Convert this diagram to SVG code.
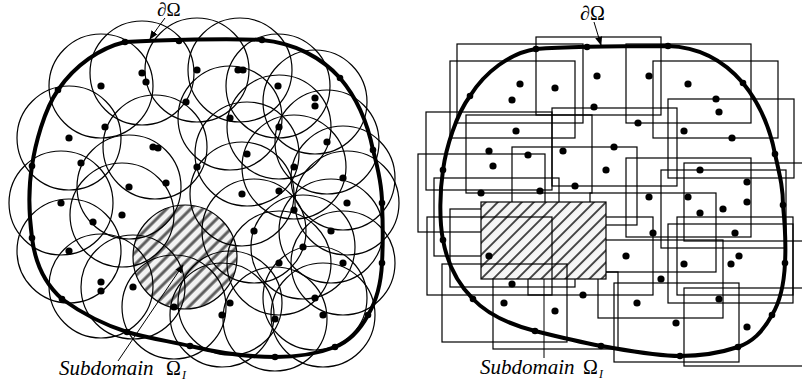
<svg xmlns="http://www.w3.org/2000/svg" width="802" height="387" viewBox="0 0 802 387">
<defs>
<style>
.c{fill:none;stroke:#000;stroke-width:1.2}
.r{fill:none;stroke:#000;stroke-width:1.2}
.b{fill:none;stroke:#000;stroke-width:4}
.d{fill:#000}
.t{font-family:"Liberation Serif","Times New Roman",serif;fill:#000}
.ld{fill:none;stroke:#000;stroke-width:1}
</style>
<pattern id="hl" width="8.5" height="8.5" patternUnits="userSpaceOnUse" patternTransform="rotate(45)">
<rect width="8.5" height="8.5" fill="#f2f2f2"/>
<line x1="2" y1="0" x2="2" y2="8.5" stroke="#444" stroke-width="3" stroke-opacity="0.85"/>
</pattern>
<pattern id="hr" width="8.5" height="8.5" patternUnits="userSpaceOnUse" patternTransform="rotate(45)">
<rect width="8.5" height="8.5" fill="#f6f6f6"/>
<line x1="2" y1="0" x2="2" y2="8.5" stroke="#333" stroke-width="1.8"/>
</pattern>
<marker id="ah" viewBox="0 0 10 10" refX="9" refY="5" markerWidth="9" markerHeight="9" markerUnits="userSpaceOnUse" orient="auto">
<path d="M0,1 L10,5 L0,9 Z" fill="#000"/>
</marker>
</defs>
<rect width="802" height="387" fill="#fff"/>

<g id="left">
<circle cx="185" cy="257" r="52" fill="url(#hl)" stroke="#000" stroke-width="1.2"/>
<g id="left-circles">
<circle class="c" cx="142" cy="73" r="52"/><circle class="c" cx="101" cy="86" r="52"/><circle class="c" cx="69" cy="138" r="52"/><circle class="c" cx="155" cy="147" r="52"/><circle class="c" cx="129" cy="187" r="52"/><circle class="c" cx="197" cy="70" r="52"/><circle class="c" cx="240" cy="70" r="52"/><circle class="c" cx="278" cy="86" r="52"/><circle class="c" cx="315" cy="102" r="52"/><circle class="c" cx="230" cy="118" r="52"/><circle class="c" cx="279" cy="127" r="52"/><circle class="c" cx="327" cy="142" r="52"/><circle class="c" cx="247" cy="154" r="52"/><circle class="c" cx="294" cy="167" r="52"/><circle class="c" cx="343" cy="178" r="52"/><circle class="c" cx="242" cy="194" r="52"/><circle class="c" cx="347" cy="203" r="52"/><circle class="c" cx="254" cy="231" r="52"/><circle class="c" cx="303" cy="247" r="52"/><circle class="c" cx="279" cy="263" r="52"/><circle class="c" cx="133" cy="287" r="52"/><circle class="c" cx="315" cy="298" r="52"/><circle class="c" cx="122" cy="215" r="52"/><circle class="c" cx="61" cy="203" r="52"/><circle class="c" cx="69" cy="251" r="52"/><circle class="c" cx="101" cy="286" r="52"/><circle class="c" cx="174" cy="307" r="52"/><circle class="c" cx="331" cy="231" r="52"/><circle class="c" cx="343" cy="263" r="52"/><circle class="c" cx="230" cy="303" r="52"/><circle class="c" cx="222" cy="315" r="52"/><circle class="c" cx="275" cy="319" r="52"/><circle class="c" cx="323" cy="315" r="52"/>
</g>
<path id="left-boundary" class="b" d="M125,42 C160,40 230,38 262,40 C295,43 322,58 340,78 C357,98 368,125 373,150 C379,172 382,188 382,203 C383,225 383,245 382,263 C381,285 377,300 368,315 C360,330 350,341 335,347 C317,354 297,357 275,357 C245,357 215,352 190,346 C168,341 147,338 127,332 C102,324 80,312 62,299 C44,283 35,262 32,238 C29,215 28,190 32,166 C35,145 44,110 58,90 C75,65 100,48 125,42 Z"/>
<g id="left-nodes" class="d">
<circle cx="125" cy="42" r="3.3"/><circle cx="179" cy="41" r="3.3"/><circle cx="262" cy="40" r="3.3"/><circle cx="340" cy="78" r="3.3"/><circle cx="373" cy="150" r="3.3"/><circle cx="382" cy="203" r="3.3"/><circle cx="382" cy="263" r="3.3"/><circle cx="368" cy="315" r="3.3"/><circle cx="335" cy="347" r="3.3"/><circle cx="275" cy="357" r="3.3"/><circle cx="190" cy="346" r="3.3"/><circle cx="127" cy="332" r="3.3"/><circle cx="62" cy="299" r="3.3"/><circle cx="32" cy="238" r="3.3"/><circle cx="32" cy="166" r="3.3"/><circle cx="58" cy="90" r="3.3"/>
<circle cx="142" cy="73" r="3.6"/><circle cx="146" cy="82" r="3.6"/><circle cx="101" cy="86" r="3.6"/><circle cx="186" cy="102" r="3.6"/><circle cx="105" cy="127" r="3.6"/><circle cx="69" cy="138" r="3.6"/><circle cx="153" cy="147" r="3.6"/><circle cx="158" cy="148" r="3.6"/><circle cx="81" cy="163" r="3.6"/><circle cx="197" cy="167" r="3.6"/><circle cx="129" cy="187" r="3.6"/><circle cx="166" cy="183" r="3.6"/><circle cx="197" cy="70" r="3.6"/><circle cx="238" cy="70" r="3.6"/><circle cx="243" cy="70" r="3.6"/><circle cx="278" cy="86" r="3.6"/><circle cx="315" cy="98" r="3.6"/><circle cx="315" cy="106" r="3.6"/><circle cx="230" cy="118" r="3.6"/><circle cx="279" cy="127" r="3.6"/><circle cx="327" cy="142" r="3.6"/><circle cx="247" cy="154" r="3.6"/><circle cx="294" cy="167" r="3.6"/><circle cx="343" cy="178" r="3.6"/><circle cx="242" cy="194" r="3.6"/><circle cx="279" cy="191" r="3.6"/><circle cx="347" cy="203" r="3.6"/><circle cx="294" cy="210" r="3.6"/><circle cx="254" cy="231" r="3.6"/><circle cx="303" cy="247" r="3.6"/><circle cx="279" cy="263" r="3.6"/><circle cx="133" cy="287" r="3.6"/><circle cx="315" cy="298" r="3.6"/><circle cx="122" cy="215" r="3.6"/><circle cx="61" cy="203" r="3.6"/><circle cx="93" cy="222" r="3.6"/><circle cx="69" cy="251" r="3.6"/><circle cx="101" cy="282" r="3.6"/><circle cx="101" cy="291" r="3.6"/><circle cx="174" cy="307" r="3.6"/><circle cx="331" cy="231" r="3.6"/><circle cx="343" cy="263" r="3.6"/><circle cx="230" cy="303" r="3.6"/><circle cx="222" cy="315" r="3.6"/><circle cx="275" cy="319" r="3.6"/><circle cx="323" cy="315" r="3.6"/>
</g>
</g>

<g id="right">
<g id="right-rects">
<rect class="r" x="536" y="37" width="125" height="78"/><rect class="r" x="457" y="44" width="126" height="79"/><rect class="r" x="626" y="44" width="125" height="79"/><rect class="r" x="450" y="61" width="125" height="77"/><rect class="r" x="653" y="61" width="125" height="77"/><rect class="r" x="668" y="99" width="126" height="79"/><rect class="r" x="552" y="108" width="125" height="78"/><rect class="r" x="426" y="112" width="126" height="78"/><rect class="r" x="466" y="115" width="126" height="78"/><rect class="r" x="512" y="147" width="125" height="78"/><rect class="r" x="626" y="158" width="125" height="79"/><rect class="r" x="684" y="163" width="126" height="78"/><rect class="r" x="661" y="170" width="125" height="78"/><rect class="r" x="418" y="154" width="127" height="78"/><rect class="r" x="434" y="178" width="125" height="78"/><rect class="r" x="590" y="193" width="126" height="79"/><rect class="r" x="450" y="209" width="125" height="78"/><rect class="r" x="493" y="272" width="125" height="77"/><rect class="r" x="598" y="240" width="125" height="78"/><rect class="r" x="668" y="224" width="125" height="79"/><rect class="r" x="677" y="217" width="116" height="78"/><rect class="r" x="614" y="283" width="125" height="79"/><rect class="r" x="684" y="288" width="126" height="78"/><rect class="r" x="528" y="217" width="125" height="78"/>
</g>
<rect id="subdomain-right" x="481" y="202" width="125" height="77" fill="url(#hr)" stroke="#000" stroke-width="1.2"/>
<g id="right-rects-top">
<rect class="r" x="427" y="217" width="125" height="78"/><rect class="r" x="442" y="264" width="125" height="78"/>
</g>
<path id="right-boundary" class="b" d="M536,49 C560,47 620,46 668,46 C700,47 725,62 743,83 C760,104 770,128 775,154 C781,180 783,190 783,205 C785,225 786,245 785,263 C784,285 780,302 772,315 C762,333 752,342 738,347 C720,353 700,356 680,356 C655,356 625,350 601,346 C580,342 555,336 535,331 C512,325 488,315 473,299 C456,282 447,262 443,240 C439,220 440,190 443,170 C446,148 456,115 470,96 C485,72 510,53 536,49 Z"/>
<g id="right-nodes" class="d">
<circle cx="536" cy="49" r="3.3"/><circle cx="587" cy="47" r="3.3"/><circle cx="668" cy="46" r="3.3"/><circle cx="743" cy="83" r="3.3"/><circle cx="775" cy="154" r="3.3"/><circle cx="783" cy="205" r="3.3"/><circle cx="785" cy="263" r="3.3"/><circle cx="772" cy="315" r="3.3"/><circle cx="738" cy="347" r="3.3"/><circle cx="680" cy="356" r="3.3"/><circle cx="601" cy="346" r="3.3"/><circle cx="535" cy="331" r="3.3"/><circle cx="473" cy="299" r="3.3"/><circle cx="443" cy="240" r="3.3"/><circle cx="443" cy="170" r="3.3"/><circle cx="470" cy="96" r="3.3"/>
<circle cx="520" cy="84" r="3.6"/><circle cx="512" cy="100" r="3.6"/><circle cx="555" cy="88" r="3.6"/><circle cx="597" cy="76" r="3.6"/><circle cx="594" cy="107" r="3.6"/><circle cx="516" cy="131" r="3.6"/><circle cx="489" cy="151" r="3.6"/><circle cx="528" cy="155" r="3.6"/><circle cx="563" cy="151" r="3.6"/><circle cx="493" cy="166" r="3.6"/><circle cx="575" cy="186" r="3.6"/><circle cx="540" cy="191" r="3.6"/><circle cx="481" cy="193" r="3.6"/><circle cx="649" cy="76" r="3.6"/><circle cx="688" cy="84" r="3.6"/><circle cx="716" cy="99" r="3.6"/><circle cx="719" cy="112" r="3.6"/><circle cx="638" cy="123" r="3.6"/><circle cx="684" cy="131" r="3.6"/><circle cx="732" cy="138" r="3.6"/><circle cx="614" cy="147" r="3.6"/><circle cx="606" cy="170" r="3.6"/><circle cx="700" cy="170" r="3.6"/><circle cx="747" cy="182" r="3.6"/><circle cx="649" cy="197" r="3.6"/><circle cx="688" cy="197" r="3.6"/><circle cx="747" cy="202" r="3.6"/><circle cx="723" cy="209" r="3.6"/><circle cx="700" cy="213" r="3.6"/><circle cx="653" cy="233" r="3.6"/><circle cx="735" cy="233" r="3.6"/><circle cx="626" cy="256" r="3.6"/><circle cx="739" cy="256" r="3.6"/><circle cx="731" cy="264" r="3.6"/><circle cx="684" cy="264" r="3.6"/><circle cx="661" cy="279" r="3.6"/><circle cx="719" cy="299" r="3.6"/><circle cx="637" cy="303" r="3.6"/><circle cx="676" cy="323" r="3.6"/><circle cx="747" cy="327" r="3.6"/><circle cx="489" cy="256" r="3.6"/><circle cx="512" cy="284" r="3.6"/><circle cx="583" cy="295" r="3.6"/><circle cx="504" cy="303" r="3.6"/><circle cx="555" cy="311" r="3.6"/>
</g>
</g>

<g id="connectors">
<path class="ld" d="M165,18 Q158,27 150,39" marker-end="url(#ah)"/>
<path class="ld" d="M594,22 L601,45" marker-end="url(#ah)"/>
<path class="ld" d="M118,361 L183,265" marker-end="url(#ah)"/>
<path class="ld" d="M544,358 L544,279"/>
</g>

<g id="labels">
<text class="t" x="157" y="16" font-size="19">∂Ω</text>
<text class="t" x="580" y="20" font-size="20">∂Ω</text>
<text class="t" x="59" y="375" font-size="21" font-style="italic">Subdomain</text>
<text class="t" x="166" y="375" font-size="20">Ω</text>
<text class="t" x="182" y="379" font-size="12" font-style="italic">I</text>
<text class="t" x="480" y="374" font-size="21" font-style="italic">Subdomain</text>
<text class="t" x="583" y="374" font-size="20">Ω</text>
<text class="t" x="599" y="378" font-size="12" font-style="italic">I</text>
</g>
</svg>
